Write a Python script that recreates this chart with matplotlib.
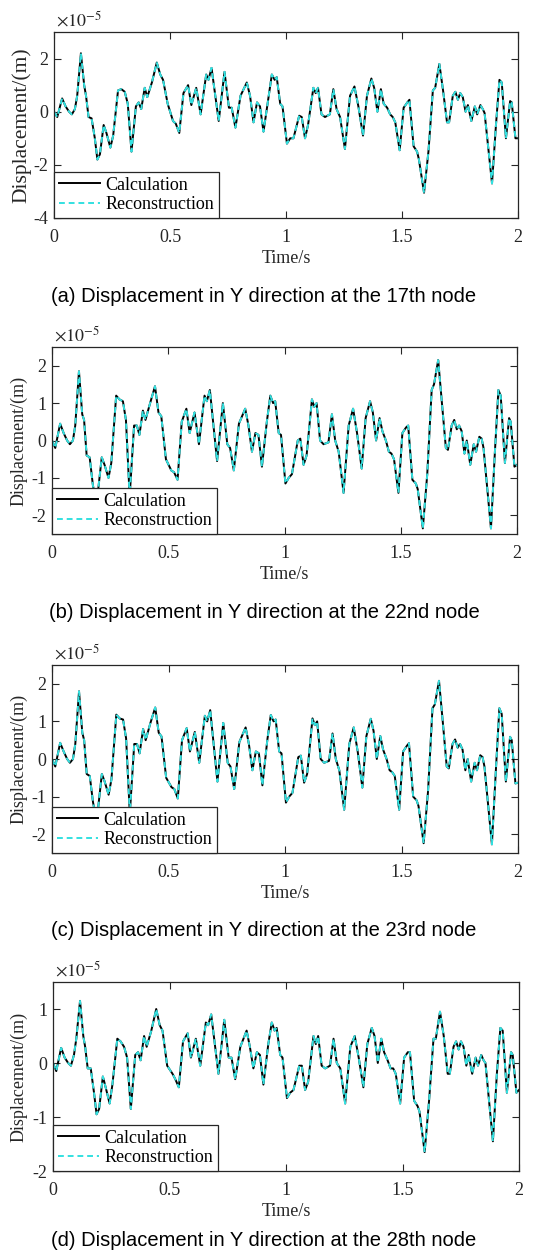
import matplotlib
matplotlib.use("Agg")
import matplotlib.pyplot as plt

plt.rcParams['font.family'] = ['Liberation Serif', 'DejaVu Serif']
plt.rcParams['mathtext.fontset'] = 'stix'
plt.rcParams['axes.unicode_minus'] = False

# ---------------- data (displacement in units of 1e-5 m) ----------------
time_s = [
    0.000, 0.014, 0.035, 0.050, 0.065, 0.077, 0.090, 0.100, 0.116, 0.130,
    0.138, 0.149, 0.162, 0.176, 0.187, 0.198, 0.214, 0.226, 0.243, 0.255,
    0.276, 0.290, 0.305, 0.318, 0.334, 0.353, 0.365, 0.376, 0.391, 0.402,
    0.422, 0.443, 0.458, 0.470, 0.490, 0.513, 0.525, 0.540, 0.558, 0.578,
    0.592, 0.613, 0.632, 0.656, 0.666, 0.679, 0.710, 0.735, 0.754, 0.766,
    0.782, 0.804, 0.831, 0.845, 0.860, 0.875, 0.888, 0.903, 0.924, 0.939,
    0.951, 0.960, 0.975, 0.985, 1.004, 1.018, 1.032, 1.057, 1.068, 1.082,
    1.095, 1.118, 1.128, 1.138, 1.153, 1.168, 1.189, 1.204, 1.218, 1.233,
    1.254, 1.276, 1.295, 1.312, 1.332, 1.349, 1.368, 1.380, 1.394, 1.409,
    1.421, 1.436, 1.449, 1.460, 1.471, 1.490, 1.507, 1.523, 1.532, 1.550,
    1.565, 1.573, 1.595, 1.614, 1.633, 1.643, 1.661, 1.677, 1.694, 1.703,
    1.719, 1.730, 1.741, 1.751, 1.762, 1.774, 1.784, 1.799, 1.814, 1.824,
    1.838, 1.848, 1.856, 1.888, 1.905, 1.920, 1.930, 1.948, 1.966, 1.973,
    1.989, 2.000]

disp_node17 = [
    0.0, -0.2, 0.5, 0.2, 0.0, -0.1, 0.1, 0.6, 2.2, 1.0,
    0.6, -0.2, -0.25, -1.0, -1.8, -1.6, -0.5, -0.8, -1.35, -0.9,
    0.8, 0.85, 0.75, 0.3, -1.5, 0.2, 0.35, 0.1, 0.9, 0.55,
    1.1, 1.85, 1.4, 1.2, 0.3, -0.35, -0.45, -0.8, 0.7, 1.0,
    0.25, 0.9, -0.1, 1.4, 1.2, 1.65, -0.35, 1.5, 0.15, 0.15,
    -0.6, 0.6, 1.1, 0.6, -0.4, 0.35, 0.2, -0.75, 0.5, 1.4,
    1.2, 1.3, 0.3, 0.2, -1.2, -1.0, -1.0, -0.15, -0.2, -1.0,
    -0.5, 0.9, 0.7, 0.9, -0.1, -0.2, -0.1, 0.85, 0.1, -0.2,
    -1.4, 0.6, 0.95, 0.2, -0.9, 0.6, 1.25, 0.9, 0.0, 0.85,
    0.3, 0.15, -0.1, -0.2, -0.4, -1.45, 0.15, 0.35, 0.45, -1.3,
    -1.5, -1.8, -3.05, -1.5, 0.8, 0.9, 1.8, 0.8, -0.4, -0.4,
    0.6, 0.75, 0.45, 0.7, 0.55, 0.0, 0.25, -0.35, 0.2, -0.1,
    0.25, 0.1, -0.05, -2.7, -0.5, 1.2, 1.1, -1.0, 0.4, 0.35,
    -1.0, -1.0]

disp_node22 = [
    0.0, -0.2, 0.45, 0.2, 0.0, -0.1, 0.0, 0.4, 1.85, 0.7,
    0.55, -0.4, -0.45, -1.2, -1.55, -1.35, -0.45, -0.65, -1.0, -0.6,
    1.2, 1.1, 1.05, 0.55, -1.5, 0.4, 0.4, 0.15, 0.8, 0.55,
    1.0, 1.45, 0.75, 0.65, -0.5, -0.8, -0.85, -1.05, 0.5, 0.85,
    0.2, 0.75, -0.1, 1.2, 1.05, 1.35, -0.55, 1.0, -0.1, -0.2,
    -0.8, 0.45, 0.85, 0.4, -0.3, 0.2, 0.15, -0.7, 0.5, 1.2,
    1.0, 1.05, 0.2, 0.15, -1.15, -1.0, -0.9, 0.0, 0.05, -0.65,
    -0.4, 1.1, 0.9, 1.0, 0.0, -0.1, -0.05, 0.7, 0.0, -0.3,
    -1.4, 0.4, 0.85, 0.2, -0.75, 0.6, 1.05, 0.75, 0.0, 0.6,
    0.25, 0.0, -0.3, -0.35, -0.5, -1.4, 0.2, 0.35, 0.4, -1.05,
    -1.15, -1.3, -2.35, -0.9, 1.35, 1.5, 2.15, 1.0, -0.2, -0.25,
    0.4, 0.55, 0.3, 0.4, 0.25, -0.35, 0.0, -0.65, -0.1, -0.3,
    0.1, 0.05, -0.2, -2.35, -0.3, 1.35, 1.2, -0.6, 0.6, 0.5,
    -0.7, -0.65]

disp_node23 = [
    0.0, -0.2, 0.43, 0.2, 0.0, -0.1, 0.0, 0.4, 1.8, 0.7,
    0.5, -0.4, -0.45, -1.15, -1.5, -1.3, -0.4, -0.6, -0.95, -0.55,
    1.18, 1.08, 1.05, 0.55, -1.45, 0.4, 0.4, 0.15, 0.8, 0.5,
    0.95, 1.37, 0.7, 0.6, -0.5, -0.75, -0.8, -1.05, 0.5, 0.82,
    0.2, 0.72, -0.1, 1.15, 1.0, 1.3, -0.6, 0.96, -0.1, -0.2,
    -0.8, 0.45, 0.84, 0.4, -0.3, 0.2, 0.15, -0.7, 0.5, 1.17,
    1.0, 1.05, 0.2, 0.15, -1.16, -1.0, -0.9, 0.05, 0.09, -0.63,
    -0.4, 1.08, 0.9, 1.0, 0.0, -0.1, -0.05, 0.68, 0.0, -0.3,
    -1.35, 0.4, 0.84, 0.2, -0.76, 0.6, 1.07, 0.75, 0.0, 0.61,
    0.25, 0.0, -0.3, -0.35, -0.45, -1.35, 0.2, 0.35, 0.42, -1.0,
    -1.1, -1.25, -2.24, -0.85, 1.35, 1.45, 2.08, 1.0, -0.2, -0.25,
    0.4, 0.52, 0.3, 0.4, 0.25, -0.3, 0.0, -0.6, -0.1, -0.3,
    0.1, 0.05, -0.2, -2.27, -0.3, 1.35, 1.2, -0.6, 0.59, 0.5,
    -0.65, -0.63]

disp_node28 = [
    0.0, -0.15, 0.28, 0.1, 0.0, -0.05, 0.15, 0.45, 1.15, 0.5,
    0.3, -0.1, -0.1, -0.55, -0.95, -0.85, -0.25, -0.45, -0.75, -0.4,
    0.45, 0.4, 0.3, 0.1, -0.85, 0.15, 0.2, 0.05, 0.5, 0.3,
    0.6, 1.0, 0.7, 0.6, -0.05, -0.2, -0.3, -0.45, 0.4, 0.55,
    0.1, 0.45, -0.05, 0.75, 0.7, 0.9, -0.2, 0.8, 0.1, 0.1,
    -0.3, 0.3, 0.6, 0.3, -0.1, 0.2, 0.15, -0.4, 0.35, 0.75,
    0.6, 0.65, 0.15, 0.1, -0.65, -0.55, -0.5, -0.05, -0.05, -0.5,
    -0.35, 0.5, 0.35, 0.5, -0.05, -0.1, -0.05, 0.45, 0.0, -0.1,
    -0.75, 0.3, 0.5, 0.1, -0.45, 0.35, 0.65, 0.5, 0.0, 0.45,
    0.2, 0.05, -0.1, -0.1, -0.2, -0.75, 0.1, 0.2, 0.2, -0.7,
    -0.8, -0.9, -1.65, -0.7, 0.45, 0.45, 0.95, 0.5, -0.2, -0.2,
    0.3, 0.4, 0.25, 0.4, 0.3, -0.05, 0.15, -0.2, 0.1, -0.05,
    0.15, 0.05, 0.0, -1.45, -0.2, 0.65, 0.6, -0.55, 0.2, 0.15,
    -0.55, -0.5]

x_ticks = [0, 0.5, 1, 1.5, 2]
x_tick_labels = ['0', '0.5', '1', '1.5', '2']
series_labels = ['Calculation', 'Reconstruction']
captions = ['(a) Displacement in Y direction at the 17th node',
            '(b) Displacement in Y direction at the 22nd node',
            '(c) Displacement in Y direction at the 23rd node',
            '(d) Displacement in Y direction at the 28th node']

# ---------------- layout ----------------
W, H = 535, 1254
fig = plt.figure(figsize=(W / 100, H / 100), dpi=100)

panels = [
    dict(vals=disp_node17, ylim=(-4, 3), yticks=[-4, -2, 0, 2],
         box=(54, 32, 518, 218), ylab=15.5, ylab_x=31, cap_y=297),
    dict(vals=disp_node22, ylim=(-2.5, 2.5), yticks=[-2, -1, 0, 1, 2],
         box=(52, 347, 517, 534), ylab=13, ylab_x=28, cap_y=612),
    dict(vals=disp_node23, ylim=(-2.5, 2.5), yticks=[-2, -1, 0, 1, 2],
         box=(52, 665, 518, 853), ylab=13, ylab_x=28, cap_y=930),
    dict(vals=disp_node28, ylim=(-2, 1.5), yticks=[-2, -1, 0, 1],
         box=(53, 982, 519, 1171), ylab=13, ylab_x=28, cap_y=1241),
]

dark = '#262626'
FS = 13
for p, cap in zip(panels, captions):
    x0, y0, x1, y1 = p['box']
    ax = fig.add_axes([x0 / W, 1 - y1 / H, (x1 - x0) / W, (y1 - y0) / H])
    ax.plot(time_s, p['vals'], color='black', lw=1.4, label=series_labels[0])
    ax.plot(time_s, p['vals'], color='#33e0e0', lw=1.4, ls=(0, (3, 2)),
            label=series_labels[1])
    ax.set_xlim(0, 2)
    ax.set_ylim(*p['ylim'])
    ax.set_xticks(x_ticks)
    ax.set_xticklabels(x_tick_labels)
    ax.set_yticks(p['yticks'])
    ax.set_yticklabels([str(v) for v in p['yticks']])
    ax.tick_params(direction='in', length=5, width=0.8, top=True, right=True,
                   labelsize=FS, colors=dark, labelcolor=dark)
    ax.tick_params(axis='x', pad=8)
    ax.tick_params(axis='y', pad=4)
    for s in ax.spines.values():
        s.set_color(dark)
        s.set_linewidth(0.9)
    ax.set_xlabel('Time/s', fontsize=FS, color=dark, labelpad=3)
    ax.set_ylabel('Displacement/(m)', fontsize=p['ylab'], color=dark)
    ax.yaxis.set_label_coords((p['ylab_x'] - x0) / (x1 - x0), 0.5)
    ax.text(0.005, 1.01, r'$\times10^{-5}$', transform=ax.transAxes,
            fontsize=FS, color=dark, ha='left', va='bottom')
    leg = ax.legend(loc='lower left', borderaxespad=0, fancybox=False,
                    edgecolor=dark, framealpha=1, handlelength=2.3,
                    handletextpad=0.3, labelspacing=0.15, borderpad=0.25,
                    fontsize=FS)
    leg.get_frame().set_linewidth(0.9)
    fig.text(264 / W, 1 - p['cap_y'] / H, cap, ha='center', va='center',
             fontsize=14.5, family='Liberation Sans', color='black')

fig.savefig('out.png', dpi=100)
